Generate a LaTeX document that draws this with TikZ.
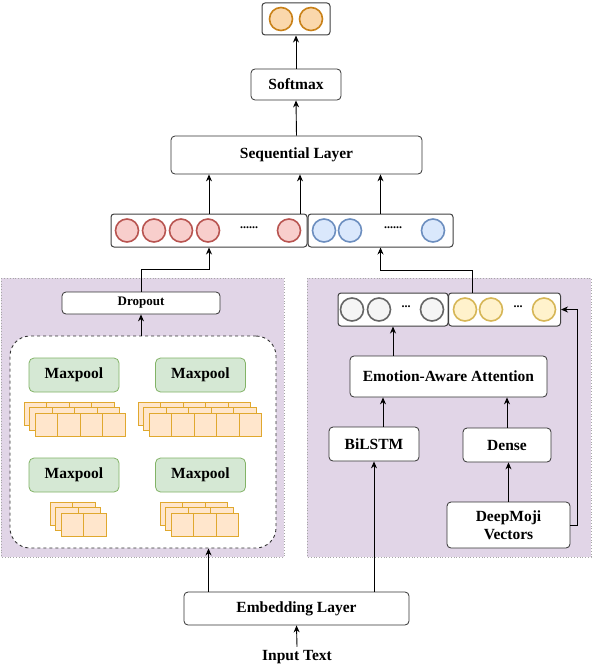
\documentclass[tikz,border=0pt]{standalone}
\usepackage{fontspec}
\setmainfont{Liberation Serif}
\usetikzlibrary{arrows.meta}

\definecolor{panelfill}{HTML}{E1D5E7}
\definecolor{poolfill}{HTML}{D5E8D4}
\definecolor{pooldraw}{HTML}{82B366}
\definecolor{mapfill}{HTML}{FFE6CC}
\definecolor{mapdraw}{HTML}{E0A82E}
\definecolor{redfill}{HTML}{F8CECC}
\definecolor{reddraw}{HTML}{B85450}
\definecolor{bluefill}{HTML}{DAE8FC}
\definecolor{bluedraw}{HTML}{6C8EBF}
\definecolor{orfill}{HTML}{FAD7AC}
\definecolor{ordraw}{HTML}{C98118}
\definecolor{grayfill}{HTML}{F5F5F5}
\definecolor{graydraw}{HTML}{666666}
\definecolor{yelfill}{HTML}{FFF2CC}
\definecolor{yeldraw}{HTML}{D6B656}

% feature maps: back corner x, y, number of cells
\newcommand{\featmap}[3]{%
  \foreach \l in {0,1,2}
    \foreach \c in {1,...,#3}
      \draw[mapcell] ({#1+5.5*\l+22.5*(\c-1)},{#2+5.5*\l}) rectangle ++(22.5,23);
}

\begin{document}
\begin{tikzpicture}[x=1pt, y=-1pt,
    font=\bfseries\fontsize{15.5}{18}\selectfont,
    box/.style={draw=black!80, line width=0.8pt, rounded corners=4pt, fill=white, inner sep=0pt},
    vecbox/.style={draw=black!75, line width=1pt, rounded corners=3pt, fill=white, inner sep=0pt},
    pool/.style={draw=pooldraw, fill=poolfill, line width=0.8pt, rounded corners=5pt,
      minimum width=90pt, minimum height=34pt, inner sep=0pt},
    mapcell/.style={draw=mapdraw, fill=mapfill, line width=1pt},
    ball/.style={circle, line width=1.6pt, minimum size=23pt, inner sep=0pt},
    redball/.style={ball, draw=reddraw, fill=redfill},
    blueball/.style={ball, draw=bluedraw, fill=bluefill},
    orball/.style={ball, draw=ordraw, fill=orfill},
    grayball/.style={ball, draw=graydraw, fill=grayfill},
    yelball/.style={ball, draw=yeldraw, fill=yelfill},
    arr/.style={-{Stealth[length=7pt, width=6pt]}, line width=0.9pt}]

  \useasboundingbox (0,0) rectangle (592,666);

  % panels
  \fill[panelfill] (1,278) rectangle (284,557);
  \draw[gray!70, dotted, line width=0.8pt] (1,278) rectangle (284,557);
  \fill[panelfill] (307,278) rectangle (591,557);
  \draw[gray!70, dotted, line width=0.8pt] (307,278) rectangle (591,557);

  % top part
  \node[vecbox, minimum width=68pt, minimum height=32pt] (out) at (296,19) {};
  \node[orball] (o1) at (281,19) {};
  \node[orball] (o2) at (311,19) {};
  \node[box, minimum width=90pt, minimum height=31pt] (softmax) at (296,84.5) {Softmax};
  \node[box, minimum width=251pt, minimum height=38pt] (seq) at (296.5,155) {Sequential Layer};

  \node[vecbox, minimum width=196pt, minimum height=33pt] (redvec) at (209,230.5) {};
  \node[vecbox, minimum width=145pt, minimum height=33pt] (bluevec) at (380.5,230.5) {};
  \foreach \x [count=\i] in {127,154,181,208,289}
    \node[redball] (r\i) at (\x,230.5) {};
  \foreach \x [count=\i] in {324,350,433}
    \node[blueball] (b\i) at (\x,230.5) {};
  \node[font=\bfseries\fontsize{12}{12}\selectfont] (rdots) at (249,228) {......};
  \node[font=\bfseries\fontsize{12}{12}\selectfont] (bdots) at (393,228) {......};

  \draw[arr] (softmax.north) -- (out.south);
  \draw[arr] (seq.north) -- (softmax.south);
  \draw[arr] (redvec.north) -- (redvec.north |- seq.south);
  \draw[arr] ([xshift=91pt]redvec.north) -- ([xshift=91pt]redvec.north |- seq.south);
  \draw[arr] (bluevec.north) -- (bluevec.north |- seq.south);

  % left panel
  \node[box, minimum width=158pt, minimum height=22pt,
    font=\bfseries\fontsize{13}{15}\selectfont] (dropout) at (141,303) {Dropout};
  \node[draw=black!80, dashed, line width=0.9pt, rounded corners=20pt, fill=white,
    minimum width=266pt, minimum height=212pt] (conv) at (143,442) {};

  \node[pool] (pool1) at (74,375) {Maxpool};
  \node[pool] (pool2) at (200.5,375) {Maxpool};
  \node[pool] (pool3) at (74,475) {Maxpool};
  \node[pool] (pool4) at (200.5,475) {Maxpool};
  \featmap{24}{402}{4}
  \featmap{138}{402}{5}
  \featmap{50}{502}{2}
  \featmap{160}{502}{3}

  \draw[arr] (conv.north -| dropout.south) -- (dropout.south);
  \draw[arr] (dropout.north) -- ++(0,-22) -| (redvec.south);

  % right panel
  \node[vecbox, minimum width=110pt, minimum height=33pt] (grayvec) at (393,309.5) {};
  \node[vecbox, minimum width=112pt, minimum height=33pt] (yelvec) at (504.5,309.5) {};
  \foreach \x [count=\i] in {352,379,432}
    \node[grayball] (g\i) at (\x,309.5) {};
  \foreach \x [count=\i] in {465,491,544}
    \node[yelball] (y\i) at (\x,309.5) {};
  \node[font=\bfseries\fontsize{12}{12}\selectfont] (gdots) at (406,307) {...};
  \node[font=\bfseries\fontsize{12}{12}\selectfont] (ydots) at (518,307) {...};

  \node[box, minimum width=197pt, minimum height=41pt] (eaa) at (448.5,376.5) {Emotion-Aware Attention};
  \node[box, minimum width=90pt, minimum height=34pt] (bilstm) at (374,444) {BiLSTM};
  \node[box, minimum width=88pt, minimum height=34pt] (dense) at (507,445) {Dense};
  \node[box, minimum width=123pt, minimum height=46pt, align=center] (deepmoji) at (508.5,525)
    {DeepMoji\\Vectors};

  \draw[arr] ([xshift=-32pt]yelvec.north) -- ++(0,-22) -| (bluevec.south);
  \draw[arr] (grayvec.south |- eaa.north) -- (grayvec.south);
  \draw[arr] ([xshift=9pt]bilstm.north) -- ([xshift=9pt]bilstm.north |- eaa.south);
  \draw[arr] (dense.north) -- (dense.north |- eaa.south);
  \draw[arr] (deepmoji.north) -- (deepmoji.north |- dense.south);
  \draw[arr] (deepmoji.east) -- ++(7,0) |- (yelvec.east);

  % bottom
  \node[box, minimum width=225pt, minimum height=33pt] (embed) at (296.5,608.5) {Embedding Layer};
  \node (input) at (297,657) {Input Text};
  \draw[arr] (input.north) -- (embed.south);
  \draw[arr] ([xshift=-88pt]embed.north) -- ([xshift=-88pt]embed.north |- conv.south);
  \draw[arr] (bilstm.south |- embed.north) -- (bilstm.south);
\end{tikzpicture}
\end{document}
